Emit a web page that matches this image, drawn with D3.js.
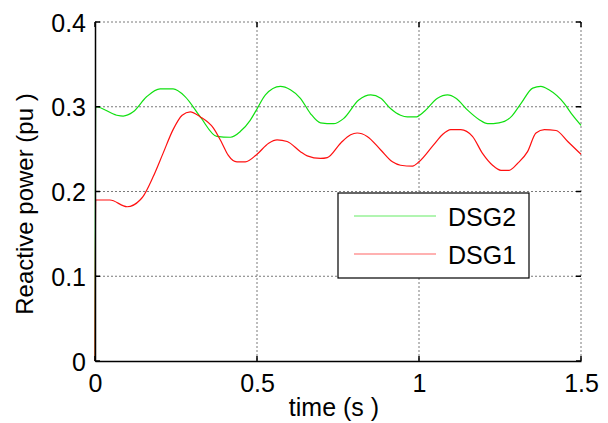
<!DOCTYPE html>
<html>
<head>
<meta charset="utf-8">
<script src="https://cdn.jsdelivr.net/npm/d3@7"></script>
<style>
  html, body { margin: 0; padding: 0; background: #fff; }
  svg { display: block; }
  text { font-family: "Liberation Sans", Arial, sans-serif; fill: #000; }
</style>
</head>
<body>
<svg id="chart" width="608" height="423"></svg>
<script>
// Reactive power of the two distributed generators over time
const dsg2Time = [0, 0.002, 0.067, 0.087, 0.118, 0.160, 0.201, 0.241, 0.278, 0.325, 0.376, 0.418, 0.449, 0.479, 0.498, 0.526, 0.572, 0.603, 0.634, 0.665, 0.696, 0.736, 0.767, 0.814, 0.851, 0.882, 0.912, 0.943, 0.964, 0.990, 1.015, 1.057, 1.088, 1.114, 1.150, 1.185, 1.212, 1.247, 1.284, 1.315, 1.351, 1.376, 1.401, 1.448, 1.474, 1.500];
const dsg2Power = [0, 0.300, 0.290, 0.289, 0.294, 0.312, 0.321, 0.321, 0.312, 0.288, 0.265, 0.264, 0.271, 0.284, 0.296, 0.314, 0.324, 0.320, 0.310, 0.292, 0.281, 0.280, 0.286, 0.308, 0.314, 0.310, 0.298, 0.290, 0.288, 0.288, 0.294, 0.310, 0.314, 0.310, 0.296, 0.285, 0.280, 0.281, 0.288, 0.304, 0.322, 0.324, 0.320, 0.304, 0.290, 0.278];

const dsg1Time = [0, 0.002, 0.046, 0.099, 0.139, 0.148, 0.179, 0.210, 0.241, 0.269, 0.294, 0.325, 0.365, 0.392, 0.411, 0.438, 0.464, 0.500, 0.536, 0.562, 0.593, 0.634, 0.655, 0.696, 0.717, 0.758, 0.789, 0.809, 0.840, 0.882, 0.918, 0.943, 0.980, 1.000, 1.045, 1.072, 1.098, 1.129, 1.165, 1.196, 1.227, 1.253, 1.278, 1.304, 1.335, 1.361, 1.387, 1.423, 1.459, 1.500];
const dsg1Power = [0, 0.190, 0.190, 0.182, 0.190, 0.194, 0.217, 0.245, 0.273, 0.290, 0.294, 0.288, 0.275, 0.257, 0.243, 0.235, 0.235, 0.244, 0.257, 0.261, 0.259, 0.247, 0.242, 0.239, 0.240, 0.257, 0.267, 0.269, 0.265, 0.249, 0.235, 0.231, 0.230, 0.235, 0.255, 0.267, 0.273, 0.273, 0.265, 0.245, 0.231, 0.225, 0.225, 0.233, 0.247, 0.269, 0.273, 0.272, 0.259, 0.244];

const xTicks = [0, 0.5, 1, 1.5];
const yTicks = [0, 0.1, 0.2, 0.3, 0.4];
const xTickLabels = ["0", "0.5", "1", "1.5"];
const yTickLabels = ["0", "0.1", "0.2", "0.3", "0.4"];

const seriesNames = ["DSG2", "DSG1"];
const seriesColors = ["#10e010", "#ff1010"];

const svg = d3.select("#chart");
const plotLeft = 95, plotRight = 581, plotTop = 22, plotBottom = 361;

const x = d3.scaleLinear().domain([0, 1.5]).range([plotLeft, plotRight]);
const y = d3.scaleLinear().domain([0, 0.4]).range([plotBottom, plotTop]);

// dotted grid (also forms the top and right frame)
const grid = svg.append("g").attr("stroke", "#7a7a7a").attr("stroke-width", 1)
  .attr("stroke-dasharray", "2,2").attr("fill", "none");
grid.selectAll("line.gx").data(xTicks.filter(d => d > 0)).join("line")
  .attr("x1", d => x(d)).attr("x2", d => x(d)).attr("y1", plotTop).attr("y2", plotBottom);
grid.selectAll("line.gy").data(yTicks.filter(d => d > 0)).join("line")
  .attr("y1", d => y(d)).attr("y2", d => y(d)).attr("x1", plotLeft).attr("x2", plotRight);

// data lines: DSG2 first, DSG1 drawn over it
const line = d3.line().x(d => x(d[0])).y(d => y(d[1])).curve(d3.curveMonotoneX);
const series = [
  d3.zip(dsg2Time, dsg2Power),
  d3.zip(dsg1Time, dsg1Power)
];
svg.append("g").selectAll("path").data(series).join("path")
  .attr("d", line)
  .attr("fill", "none")
  .attr("stroke", (d, i) => seriesColors[i])
  .attr("stroke-width", 1.2);

// solid left and bottom axes
const axX = svg.append("g").attr("transform", `translate(0,${plotBottom})`)
  .call(d3.axisBottom(x).tickValues(xTicks).tickFormat((d, i) => xTickLabels[i]).tickSize(0).tickPadding(13));
const axY = svg.append("g").attr("transform", `translate(${plotLeft},0)`)
  .call(d3.axisLeft(y).tickValues(yTicks).tickFormat((d, i) => yTickLabels[i]).tickSize(0).tickPadding(9));
[axX, axY].forEach(a => {
  a.select(".domain").attr("stroke", "#000").attr("stroke-width", 1.5);
  a.selectAll("text").style("font-size", "25px").style("font-family", "'Liberation Sans', Arial, sans-serif");
});
axY.selectAll("text").attr("dy", "0.36em");
axX.selectAll("text").attr("dy", "0.72em");

// small inward tick marks on all four sides
const tk = svg.append("g").attr("stroke", "#000").attr("stroke-width", 1.5);
xTicks.forEach(d => {
  tk.append("line").attr("x1", x(d)).attr("x2", x(d)).attr("y1", plotBottom).attr("y2", plotBottom - 5);
  tk.append("line").attr("x1", x(d)).attr("x2", x(d)).attr("y1", plotTop).attr("y2", plotTop + 5);
});
yTicks.forEach(d => {
  tk.append("line").attr("x1", plotLeft).attr("x2", plotLeft + 5).attr("y1", y(d)).attr("y2", y(d));
  tk.append("line").attr("x1", plotRight - 5).attr("x2", plotRight).attr("y1", y(d)).attr("y2", y(d));
});

// axis titles
svg.append("text").attr("x", 334).attr("y", 416).attr("text-anchor", "middle")
  .style("font-size", "25px").text("time (s )");
svg.append("text").attr("transform", "translate(33,204) rotate(-90)").attr("text-anchor", "middle")
  .style("font-size", "24px").text("Reactive power (pu )");

// legend
const lg = svg.append("g");
lg.append("rect").attr("x", 338).attr("y", 193).attr("width", 191).attr("height", 85)
  .attr("fill", "#fff").attr("stroke", "#000").attr("stroke-width", 1.2);
const rowY = [216, 254];
seriesNames.forEach((name, i) => {
  lg.append("line").attr("x1", 354).attr("x2", 436).attr("y1", rowY[i]).attr("y2", rowY[i])
    .attr("stroke", seriesColors[i]).attr("stroke-opacity", 0.65).attr("stroke-width", 1.2);
  lg.append("text").attr("x", 448).attr("y", rowY[i] + 9.5)
    .style("font-size", "25px").text(name);
});
</script>
</body>
</html>
